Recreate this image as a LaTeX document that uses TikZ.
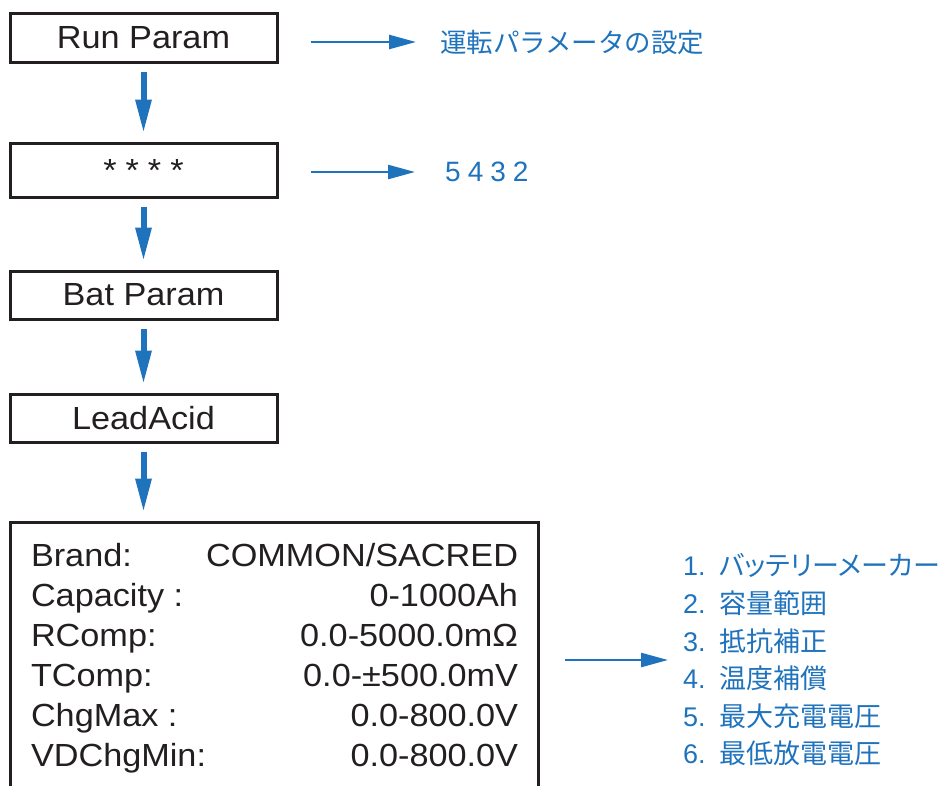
\documentclass[tikz,border=0pt]{standalone}
\usepackage{fontspec}
\setmainfont{Liberation Sans}[FakeStretch=1.07]
\newfontfamily\jp{Noto Sans CJK JP}
\newfontfamily\jpp{Noto Sans CJK JP}[RawFeature=+palt]
\newfontfamily\spaced{Liberation Sans}[LetterSpace=25]
\newfontfamily\plain{Liberation Sans}
\usetikzlibrary{positioning,arrows.meta}
\definecolor{guideblue}{HTML}{1F73BD}
\definecolor{boxline}{HTML}{231F20}

\begin{document}
\begin{tikzpicture}[x=1pt, y=-1pt, node distance=72pt]
        % Define styles
        \tikzstyle{param} = [rectangle, minimum width=267pt, minimum height=48pt, text centered, draw=boxline, line width=3pt, text=boxline, font=\fontsize{32}{38}\selectfont]
        \tikzstyle{specbox} = [rectangle, draw=boxline, line width=3pt, inner xsep=21pt, inner ysep=16.5pt, text=boxline, font=\fontsize{32}{40}\selectfont]
        \tikzstyle{note} = [inner sep=0pt, text=guideblue, anchor=west]
        \tikzstyle{downarrow} = [draw=guideblue, line width=6pt, -{Triangle[length=34pt, width=15pt]}, shorten <=8pt, shorten >=8pt]
        \tikzstyle{sidearrow} = [draw=guideblue, line width=2.5pt, -{Triangle[length=27pt, width=14pt]}]

        \useasboundingbox (0,0) rectangle (947,785);

        % Nodes
        \node (run) [param, minimum height=49pt] at (143.5,37.5) {Run Param};
        \node (pwd) [param, minimum height=54pt, below=78pt of run] {*\hspace{9pt}*\hspace{9pt}*\hspace{9pt}*};
        \node (bat) [param, below=71pt of pwd] {Bat Param};
        \node (lead) [param, below=of bat] {LeadAcid};
        \node (spec) [specbox, below=77pt of lead.south west, anchor=north west] {%
            \begin{tabular*}{486pt}{@{}l@{\extracolsep{\fill}}r@{}}
            Brand: & COMMON/SACRED\\
            Capacity : & 0-1000Ah\\
            RComp: & 0.0-5000.0mΩ\\
            TComp: & 0.0-±500.0mV\\
            ChgMax : & 0.0-800.0V\\
            VDChgMin: & 0.0-800.0V
            \end{tabular*}};

        \node (runnote) [note, font=\jp\fontsize{26.5}{30}\selectfont] at (440,42) {運転パラメータの設定};
        \node (pwdnote) [note, font=\spaced\fontsize{28}{30}\selectfont] at (445,172) {5432};
        \node (batlist) [note, align=left, font=\plain\fontsize{27}{37.6}\selectfont] at (683,660) {%
            1.\enspace{\jpp バッテリーメーカー}\\
            2.\enspace{\jpp 容量範囲}\\
            3.\enspace{\jpp 抵抗補正}\\
            4.\enspace{\jpp 温度補償}\\
            5.\enspace{\jpp 最大充電電圧}\\
            6.\enspace{\jpp 最低放電電圧}};

        % Arrows
        \draw [downarrow] (run) -- (pwd);
        \draw [downarrow] (pwd) -- (bat);
        \draw [downarrow] (bat) -- (lead);
        \draw [downarrow] (lead) -- (lead |- spec.north);
        \draw [sidearrow, shorten <=32pt, shorten >=24pt] (runnote.west -| run.east) -- (runnote.west);
        \draw [sidearrow, shorten <=32pt, shorten >=30pt] (pwdnote.west -| pwd.east) -- (pwdnote.west);
        \draw [sidearrow, shorten <=25.5pt, shorten >=15pt] (batlist.west -| spec.east) -- (batlist.west);
    \end{tikzpicture}
\end{document}
